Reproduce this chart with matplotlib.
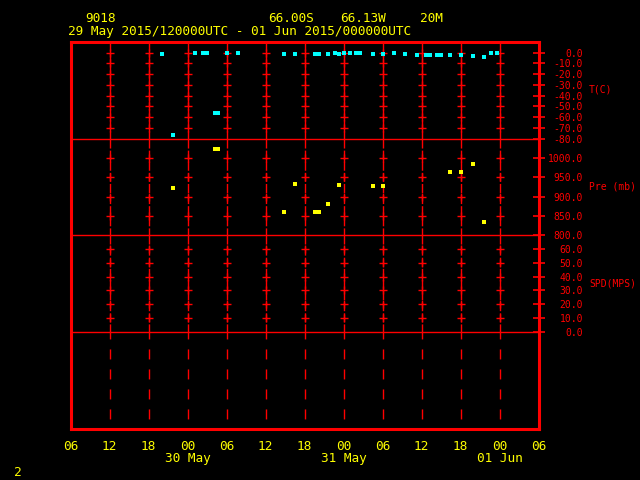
import numpy as np
import matplotlib.pyplot as plt

plt.rcParams['font.family'] = 'DejaVu Sans Mono'
plt.rcParams['lines.scale_dashes'] = False

# time axis: hours after 29 May 2015 06UTC
t_hours = [14.1, 15.8, 19.2, 20.4, 21.0, 22.2, 22.7, 24.1, 25.8, 32.8, 34.5,
           37.6, 38.2, 39.6, 40.7, 41.3, 42.1, 43.0, 43.9, 44.5, 46.5, 48.1,
           49.8, 51.5, 53.3, 54.7, 55.3, 56.4, 57.0, 58.4, 60.1, 61.9, 63.6,
           64.7, 65.6]
temp_c = [-1, -77, 0, 0, 0, -56, -56, 0, 0, -1, -1,
          -1, -1, -1, 0, -1, 0, 0, 0, 0, -1, -1,
          0, -1, -2, -2, -2, -2, -2, -2, -2, -3, -4,
          0, 0]

p_hours = [15.8, 22.2, 22.7, 32.8, 34.5, 37.6, 38.2, 39.6, 41.3, 46.5, 48.1,
           58.4, 60.1, 61.9, 63.6]
pres_mb = [922, 1024, 1024, 859, 932, 859, 859, 880, 930, 927, 927,
           964, 964, 984, 833]

hour_labels = ['06', '12', '18', '00', '06', '12', '18', '00', '06', '12', '18', '00', '06']
day_labels = {3: '30 May', 7: '31 May', 11: '01 Jun'}
grid_hours = np.arange(6, 72, 6)

# sections: (label, ylim, ticks)
sections = [
    ('T(C)', (-80, 10), np.arange(-80, 1, 10)),
    ('Pre (mb)', (800, 1050), np.arange(800, 1001, 50)),
    ('SPD(MPS)', (0, 70), np.arange(0, 61, 10)),
]

W, H = 640, 480
LEFT, RIGHT, TOP, BOTTOM = 70.5, 538.5, 42, 428.5
sec_h = (BOTTOM - TOP) / 4


def box(top, bottom):
    return [LEFT / W, 1 - bottom / H, (RIGHT - LEFT) / W, (bottom - top) / H]


fig = plt.figure(figsize=(6.4, 4.8), dpi=100, facecolor='black')

axes = []
for i, (name, (lo, hi), ticks) in enumerate(sections):
    top = TOP + i * sec_h
    ax = fig.add_axes(box(top, top + sec_h))
    ax.set_facecolor('none')
    for s in ax.spines.values():
        s.set_visible(False)
    ax.set_xlim(0, 72)
    ax.set_ylim(lo, hi)
    ax.set_xticks([])
    ax.yaxis.tick_right()
    ax.set_yticks(ticks)
    ax.set_yticklabels([f'{v:.1f}' for v in ticks])
    ax.tick_params(axis='y', direction='inout', length=8, width=1.2,
                   colors='red', pad=28, labelsize=7)
    plt.setp(ax.get_yticklabels(), ha='right')
    ax.axhline(lo, color='red', lw=1.0, clip_on=False)
    ax.vlines(grid_hours, hi, lo, colors='red', lw=1.0,
              linestyles=[(0, (6.5, 1.5))])
    gx, gy = np.meshgrid(grid_hours, ticks[1:])
    ax.plot(gx.ravel(), gy.ravel(), '+', color='red', ms=5.5, mew=1.0)
    ty = 0.51 if i == 0 else 0.5
    ax.text(1.108, ty, name, transform=ax.transAxes, color='red',
            fontsize=7, va='center', ha='left')
    axes.append(ax)

# empty bottom section
ax4 = fig.add_axes(box(TOP + 3 * sec_h, BOTTOM))
ax4.set_facecolor('none')
ax4.set_axis_off()
ax4.set_xlim(0, 72)
ax4.set_ylim(0, 1)
ax4.vlines(grid_hours, 1, 0, colors='red', lw=1.0,
           linestyles=[(2.2, (7.2, 7.2))])

axes[0].plot(t_hours, temp_c, 's', color='cyan', ms=3.3, mew=0)
axes[1].plot(p_hours, pres_mb, 's', color='yellow', ms=3.3, mew=0)

# frame with time labels
frame = fig.add_axes(box(TOP, BOTTOM), zorder=5)
frame.set_facecolor('none')
frame.set_xlim(0, 72)
frame.set_yticks([])
for s in frame.spines.values():
    s.set_color('red')
    s.set_linewidth(2.2)
labels = [lab + ('\n' + day_labels[k] if k in day_labels else '')
          for k, lab in enumerate(hour_labels)]
frame.set_xticks(np.arange(0, 73, 6))
frame.set_xticklabels(labels)
frame.tick_params(axis='x', length=0, pad=8, labelsize=9.2, colors='yellow')
plt.setp(frame.get_xticklabels(), linespacing=0.95)

# header
fig.text(85 / W, 1 - 18 / H, '9018', color='yellow', fontsize=9.2, va='center')
fig.text(268 / W, 1 - 18 / H, '66.00S', color='yellow', fontsize=9.2, va='center')
fig.text(340 / W, 1 - 18 / H, '66.13W', color='yellow', fontsize=9.2, va='center')
fig.text(420 / W, 1 - 18 / H, '20M', color='yellow', fontsize=9.2, va='center')
fig.text(68 / W, 1 - 31 / H, '29 May 2015/120000UTC - 01 Jun 2015/000000UTC',
         color='yellow', fontsize=9.2, va='center')
fig.text(14 / W, 1 - 472 / H, '2', color='yellow', fontsize=9.2, va='center')

fig.savefig('out.png', dpi=100, facecolor='black')
